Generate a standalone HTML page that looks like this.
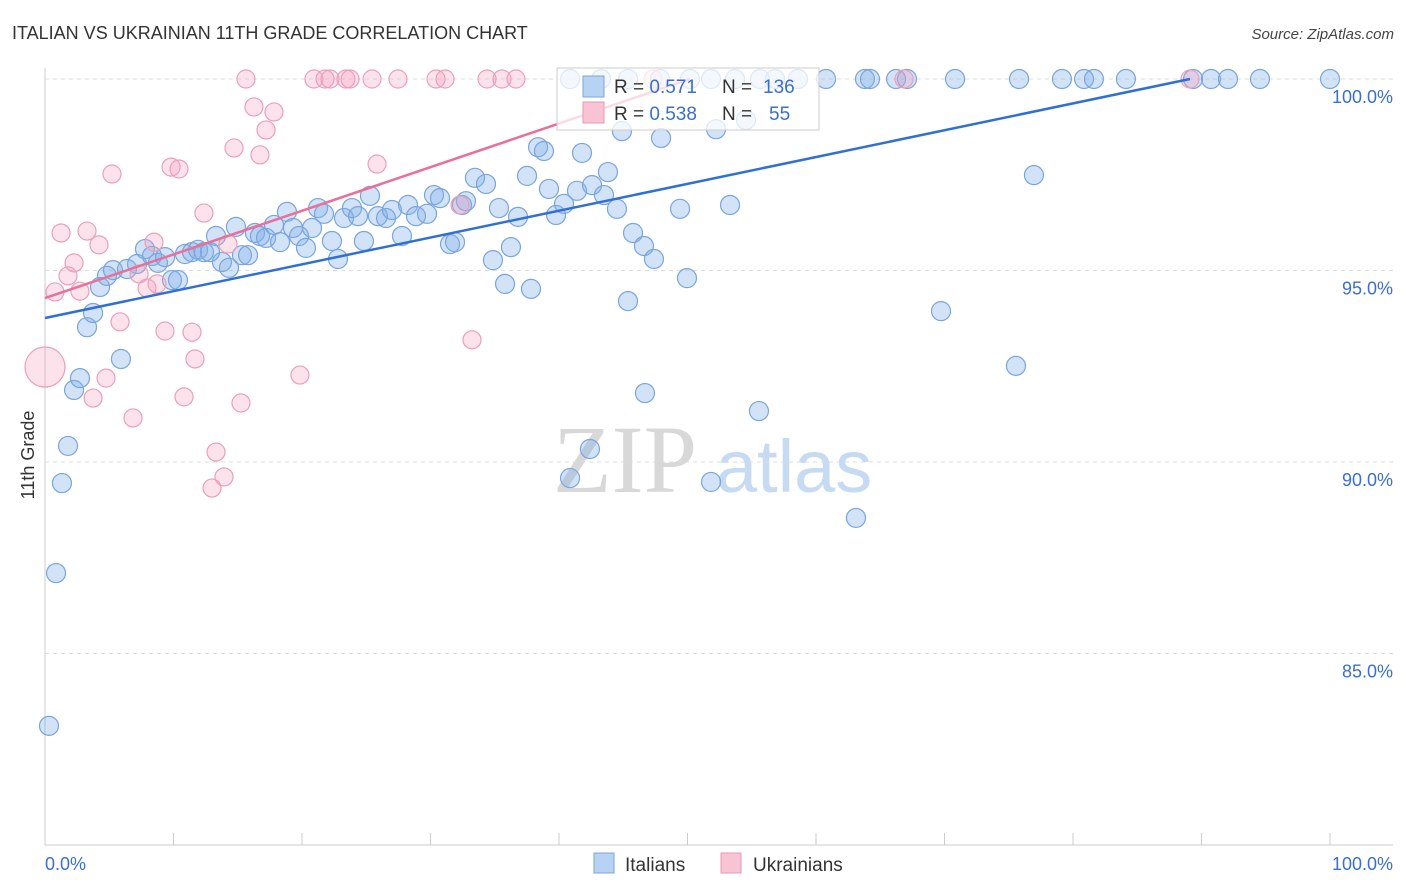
<!DOCTYPE html>
<html><head><meta charset="utf-8"><style>
body{margin:0;background:#fff;font-family:"Liberation Sans",sans-serif;}
svg{display:block}
</style></head><body>
<svg id="chart" width="1406" height="892" xmlns="http://www.w3.org/2000/svg">
<text x="12" y="39" font-size="18" fill="#333">ITALIAN VS UKRAINIAN 11TH GRADE CORRELATION CHART</text>
<text x="1394" y="39" font-size="15" fill="#444" font-style="italic" text-anchor="end">Source: ZipAtlas.com</text>
<g>
<text x="553" y="492" font-size="96" font-family="Liberation Serif,serif" fill="#d8d8d8">ZIP</text>
<text x="716" y="492" font-size="74" fill="#c6daf2">atlas</text>
</g>
<g id="grid"></g>
<g id="axes"></g>
<g id="blue"></g>
<g id="pink"></g>
<g id="lines"></g>
<g>
<rect x="557" y="68" width="262" height="62" fill="rgba(255,255,255,0.75)" stroke="#ccc"/>
<rect x="583" y="76" width="21" height="21" fill="#b8d2f4" stroke="#7aa4dc"/>
<rect x="583" y="102" width="21" height="21" fill="#f8c3d3" stroke="#e99ab2"/>
<text x="614" y="93" font-size="19" fill="#333">R = <tspan fill="#3a6fd0">0.571</tspan><tspan x="722">N =</tspan><tspan x="763" fill="#3a6fd0">136</tspan></text>
<text x="614" y="120" font-size="19" fill="#333">R = <tspan fill="#3a6fd0">0.538</tspan><tspan x="722">N =</tspan><tspan x="769" fill="#3a6fd0">55</tspan></text>
</g>
<g>
<rect x="594" y="853" width="20" height="20" fill="#b8d2f4" stroke="#7aa4dc"/>
<text x="625" y="871" font-size="19" fill="#333">Italians</text>
<rect x="721" y="853" width="20" height="20" fill="#f8c3d3" stroke="#e99ab2"/>
<text x="753" y="871" font-size="19" fill="#333">Ukrainians</text>
</g>
<text transform="translate(34,455) rotate(-90)" font-size="18" fill="#333" text-anchor="middle">11th Grade</text>
</svg>
<script>
const yTicks=[100,95,90,85];
const yTickLabels=["100.0%","95.0%","90.0%","85.0%"];
const xTickLabels=["0.0%","100.0%"];
const blueX=[0.31,0.86,1.32,1.79,2.26,2.72,3.27,3.74,4.28,4.82,5.29,5.91,6.38,7.16,7.78,8.33,8.79,9.34,9.88,10.35,10.89,11.44,11.91,12.37,12.84,13.31,13.77,14.32,14.86,15.33,15.80,16.34,16.73,17.20,17.82,18.29,18.83,19.30,19.77,20.31,20.78,21.25,21.71,22.33,22.80,23.27,23.89,24.36,24.82,25.29,25.91,26.54,27.00,27.78,28.25,28.87,29.73,30.27,30.74,31.52,31.91,32.45,32.76,33.46,34.32,34.86,35.33,35.80,36.26,36.81,37.51,37.82,38.37,38.83,39.22,39.77,40.39,41.40,41.79,42.41,40.86,42.57,43.50,43.81,44.51,44.90,45.37,45.76,46.61,46.69,47.39,47.94,49.42,49.96,51.83,52.22,53.31,54.55,55.56,63.11,69.73,75.56,76.96,
40.86,43.27,45.37,47.86,50.19,51.83,53.70,55.64,56.81,58.60,60.78,63.81,64.20,66.23,67.08,70.82,75.80,79.14,80.86,81.63,84.12,89.34,90.74,92.06,94.55,100.0];
const blueY=[83.11,87.10,89.45,90.42,91.88,92.19,93.52,93.89,94.57,94.86,95.01,92.69,95.04,95.17,95.56,95.38,95.20,95.35,94.75,94.75,95.43,95.48,95.54,95.48,95.48,95.90,95.22,95.07,96.14,95.40,95.40,95.98,95.90,95.85,96.19,95.74,96.53,96.11,95.90,95.59,96.11,96.63,96.48,95.77,95.30,96.37,96.63,96.42,95.77,96.95,96.42,96.37,96.58,95.90,96.71,96.42,96.48,96.97,96.89,95.69,95.74,96.71,96.81,97.42,97.26,95.27,96.63,94.65,95.61,96.40,97.47,94.52,98.22,98.12,97.13,96.45,96.74,97.08,98.07,90.34,89.58,97.23,96.97,97.57,96.61,98.64,94.20,95.98,95.64,91.80,95.30,98.46,96.61,94.80,89.48,98.69,96.71,98.93,91.33,88.54,93.94,92.51,97.49,
100,100,100,100,100,100,100,100,100,100,100,100,100,100,100,100,100,100,100,100,100,100,100,100,100,100];
const pinkX=[0.0,0.78,1.25,1.79,2.26,2.72,3.27,3.74,4.20,4.75,5.21,5.84,6.85,7.32,7.94,8.48,8.72,9.34,9.81,10.43,10.82,11.44,11.67,12.37,13.00,13.31,13.93,14.24,14.71,15.25,16.26,16.73,17.20,17.82,19.84,25.84,33.23,32.30,
15.64,20.93,21.79,22.18,23.42,23.74,25.45,27.47,30.43,31.13,34.40,35.56,36.65,47.32,66.85,89.11];
const pinkY=[92.48,94.44,95.98,94.86,95.20,94.46,96.03,91.67,95.67,92.19,97.52,93.66,91.15,94.91,94.54,95.74,94.65,93.42,97.70,97.65,91.70,93.39,92.69,96.50,89.32,90.26,89.61,95.69,98.20,91.54,99.27,98.02,98.67,99.14,92.27,97.78,93.19,96.71,
100,100,100,100,100,100,100,100,100,100,100,100,100,100,100,100];
const blueTrend=[[0,93.76],[89.1,100]];
const pinkTrend=[[0,94.28],[50.2,100]];

const NS="http://www.w3.org/2000/svg";
const X=v=>45+v*12.85;
const Y=v=>79+(100-v)*38.3;
function mk(tag,attrs,parent){const e=document.createElementNS(NS,tag);for(const k in attrs)e.setAttribute(k,attrs[k]);parent.appendChild(e);return e;}
const grid=document.getElementById('grid'),axes=document.getElementById('axes');
yTicks.forEach((t,i)=>{
  const l=mk('line',{x1:45,x2:1393,y1:Y(t),y2:Y(t),stroke:'#ddd','stroke-dasharray':'4,4'},grid);
  
  
  const tx=mk('text',{x:1393,y:Y(t)+24,'font-size':18,fill:'#3a6fd0','text-anchor':'end'},axes);
  tx.textContent=yTickLabels[i];
  
  
});
mk('line',{x1:45,x2:45,y1:68,y2:845,stroke:'#ccc'},axes);
mk('line',{x1:45,x2:1393,y1:845,y2:845,stroke:'#ccc'},axes);
for(let i=0;i<=10;i++){
  const t=mk('line',{x1:X(i*10),x2:X(i*10),y1:833,y2:845,stroke:'#ccc'},axes);
  
  
}
const x0=mk('text',{x:45,y:870,'font-size':18,fill:'#3a6fd0'},axes);x0.textContent=xTickLabels[0];


const x1=mk('text',{x:1393,y:870,'font-size':18,fill:'#3a6fd0','text-anchor':'end'},axes);x1.textContent=xTickLabels[1];


const bg=document.getElementById('blue');
blueX.forEach((v,i)=>{
  const c=mk('circle',{cx:X(v),cy:Y(blueY[i]),r:9.5,fill:'rgba(130,175,232,0.35)',stroke:'#79a5de','stroke-width':1.2},bg);
  
  
});
const pg=document.getElementById('pink');
pinkX.forEach((v,i)=>{
  const c=mk('circle',{cx:X(v),cy:Y(pinkY[i]),r:i===0?20:9,fill:'rgba(244,160,188,0.3)',stroke:'#eba0b8','stroke-width':1.2},pg);
  
  
});
const lg=document.getElementById('lines');
const bl=mk('line',{x1:X(blueTrend[0][0]),y1:Y(blueTrend[0][1]),x2:X(blueTrend[1][0]),y2:Y(blueTrend[1][1]),stroke:'#2f6fd6','stroke-width':2.5},lg);


const pl=mk('line',{x1:X(pinkTrend[0][0]),y1:Y(pinkTrend[0][1]),x2:X(pinkTrend[1][0]),y2:Y(pinkTrend[1][1]),stroke:'#e8709a','stroke-width':2.5},lg);


</script>
</body></html>
